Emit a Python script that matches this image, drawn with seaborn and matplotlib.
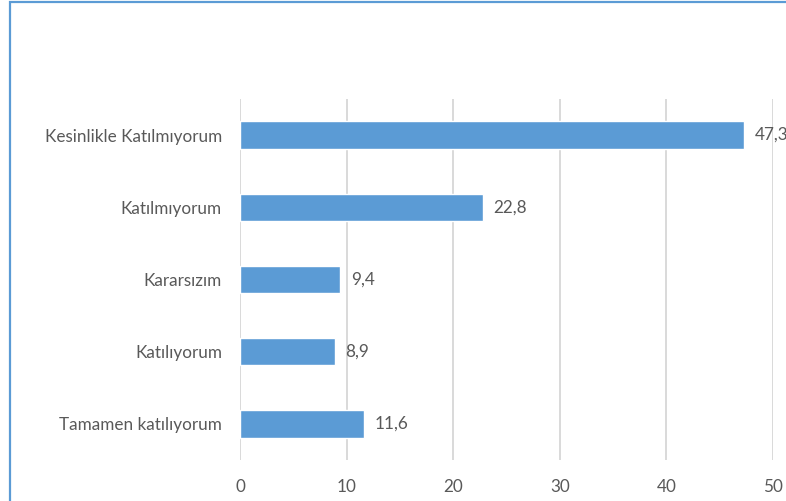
import matplotlib
matplotlib.use("Agg")
import matplotlib.pyplot as plt
import seaborn as sns
import pandas as pd
from matplotlib.patches import Rectangle

categories = ["Kesinlikle Katılmıyorum", "Katılmıyorum", "Kararsızım",
              "Katılıyorum", "Tamamen katılıyorum"]
values = [47.3, 22.8, 9.4, 8.9, 11.6]
x_ticks = [0, 10, 20, 30, 40, 50]

bar_color = "#5B9BD5"
text_color = "#595959"
grid_color = "#D9D9D9"

sns.set_theme(style="white")
plt.rcParams["font.family"] = ["Lato", "DejaVu Sans"]

df = pd.DataFrame({"category": categories, "value": values})

W, H, DPI = 786, 501, 100
fig = plt.figure(figsize=(W / DPI, H / DPI), dpi=DPI)
ax = fig.add_axes([240 / W, (H - 460) / H, (773 - 240) / W, (460 - 99) / H])

sns.barplot(data=df, y="category", x="value", orient="h", color=bar_color,
            saturation=1, width=0.38, ax=ax, zorder=3)

fs = 12.3
ax.set_xlim(0, 50)
ax.set_xticks(x_ticks)
ax.set_xticklabels([str(t) for t in x_ticks])
ax.set_xlabel("")
ax.set_ylabel("")
for s in ax.spines.values():
    s.set_visible(False)
ax.grid(axis="x", color=grid_color, linewidth=1.4, zorder=0)
ax.grid(axis="y", visible=False)
ax.tick_params(axis="both", length=0, colors=text_color, labelsize=fs)
ax.tick_params(axis="y", pad=13)
ax.tick_params(axis="x", pad=14)

for patch, v in zip(ax.patches, values):
    y = patch.get_y() + patch.get_height() / 2
    ax.text(v + 1.0, y, f"{v:.1f}".replace(".", ","), va="center", ha="left",
            color=text_color, fontsize=fs, clip_on=False)

# chart frame
fig.patches.append(Rectangle((10 / W, -0.1), 1.2, 1.1 - 2 / H,
                             transform=fig.transFigure, fill=False,
                             edgecolor=bar_color, linewidth=1.6))

fig.savefig("out.png", dpi=DPI)
